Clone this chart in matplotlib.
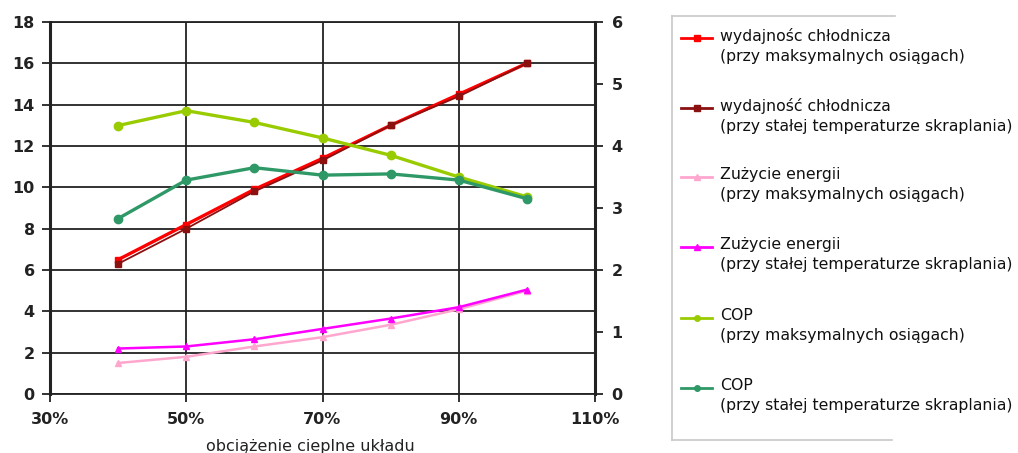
import matplotlib
matplotlib.use("Agg")
import matplotlib.pyplot as plt
from matplotlib.lines import Line2D

plt.rcParams['font.family'] = ['DejaVu Sans']

# data
load_pct = [40, 50, 60, 70, 80, 90, 100]
cap_max = [6.5, 8.2, 9.9, 11.4, 13.0, 14.5, 16.0]
cap_const = [6.3, 8.0, 9.8, 11.3, 13.0, 14.4, 16.0]
energy_max = [1.5, 1.8, 2.3, 2.75, 3.35, 4.1, 5.0]
energy_const = [2.2, 2.3, 2.65, 3.15, 3.65, 4.2, 5.05]
cop_max = [4.33, 4.57, 4.38, 4.13, 3.85, 3.5, 3.18]
cop_const = [2.83, 3.45, 3.65, 3.53, 3.55, 3.45, 3.15]

x_ticks = [30, 50, 70, 90, 110]
x_tick_labels = ["30%", "50%", "70%", "90%", "110%"]
left_ticks = [0, 2, 4, 6, 8, 10, 12, 14, 16, 18]
right_ticks = [0, 1, 2, 3, 4, 5, 6]

labels = [
    "wydajnośc chłodnicza\n(przy maksymalnych osiągach)",
    "wydajność chłodnicza\n(przy stałej temperaturze skraplania)",
    "Zużycie energii\n(przy maksymalnych osiągach)",
    "Zużycie energii\n(przy stałej temperaturze skraplania)",
    "COP\n(przy maksymalnych osiągach)",
    "COP\n(przy stałej temperaturze skraplania)",
]
xlabel = "obciążenie cieplne układu"

c_red = "#FF0000"
c_dred = "#8B1010"
c_pink = "#FFA6CF"
c_mag = "#FF00FF"
c_lime = "#99CC00"
c_green = "#2E9966"

W, H = 1018, 453
fig = plt.figure(figsize=(W / 100, H / 100), dpi=100)
ax = fig.add_axes([50 / W, 1 - 394 / H, (595 - 50) / W, (394 - 22) / H])
ax2 = ax.twinx()

ax.set_xlim(30, 110)
ax.set_ylim(0, 18)
ax2.set_ylim(0, 6)
ax.set_xticks(x_ticks)
ax.set_xticklabels(x_tick_labels)
ax.set_yticks(left_ticks)
ax2.set_yticks(right_ticks)

ax.grid(True, color="#222222", linewidth=1.3)
ax.set_axisbelow(True)
for sp in ax.spines.values():
    sp.set_color("#222222")
    sp.set_linewidth(1.3)
ax.spines['left'].set_linewidth(2.2)
for sp in ax2.spines.values():
    sp.set_visible(False)
ax2.spines['right'].set_visible(True)
ax2.spines['right'].set_linewidth(2.2)
ax2.spines['right'].set_color("#222222")

ax.tick_params(axis="y", length=6, width=1.3, color="#222222", pad=5)
ax.tick_params(axis="x", length=6, width=1.3, color="#222222", pad=7)
ax2.tick_params(axis="y", length=6, width=1.3, color="#222222", pad=6)
for t in ax.get_xticklabels() + ax.get_yticklabels() + ax2.get_yticklabels():
    t.set_fontsize(11.5)
    t.set_fontweight("bold")
    t.set_color("#222222")

lw = 1.8
ax.plot(load_pct, cap_max, color=c_red, marker="s", ms=5, lw=2.4, zorder=3)
ax.plot(load_pct, cap_const, color=c_dred, marker="s", ms=4, lw=1.3, zorder=4)
ax.plot(load_pct, energy_max, color=c_pink, marker="^", ms=5, lw=lw, zorder=3)
ax.plot(load_pct, energy_const, color=c_mag, marker="^", ms=5, lw=lw, zorder=4)
ax2.plot(load_pct, cop_max, color=c_lime, marker="o", ms=6, lw=2.4, zorder=3)
ax2.plot(load_pct, cop_const, color=c_green, marker="o", ms=6, lw=2.4, zorder=4)

fig.text(310 / W, 1 - 447 / H, xlabel, ha="center", va="center", fontsize=11.5, color="#222222")

# legend
frame_c = "#C8C8C8"
def fx(px):
    return px / W
def fy(py):
    return 1 - py / H
fig.add_artist(Line2D([fx(672), fx(895)], [fy(16), fy(16)], transform=fig.transFigure, color=frame_c, lw=1.2))
fig.add_artist(Line2D([fx(672), fx(672)], [fy(16), fy(440)], transform=fig.transFigure, color=frame_c, lw=1.2))
fig.add_artist(Line2D([fx(672), fx(892)], [fy(440), fy(440)], transform=fig.transFigure, color=frame_c, lw=1.2))

styles = [
    (c_red, "s"), (c_dred, "s"), (c_pink, "^"), (c_mag, "^"), (c_lime, "o"), (c_green, "o"),
]
entry_y = [38, 108, 177, 247, 318, 388]
for (col, mk), yy, lab in zip(styles, entry_y, labels):
    fig.add_artist(Line2D([fx(681), fx(712)], [fy(yy), fy(yy)], transform=fig.transFigure,
                          color=col, lw=2))
    fig.add_artist(Line2D([fx(697)], [fy(yy)], transform=fig.transFigure,
                          color=col, marker=mk, ms=4, lw=0))
    fig.text(fx(720), fy(yy - 10), lab, ha="left", va="top", fontsize=11.3,
             color="#111111", linespacing=1.4)

fig.savefig("out.png", dpi=100)
